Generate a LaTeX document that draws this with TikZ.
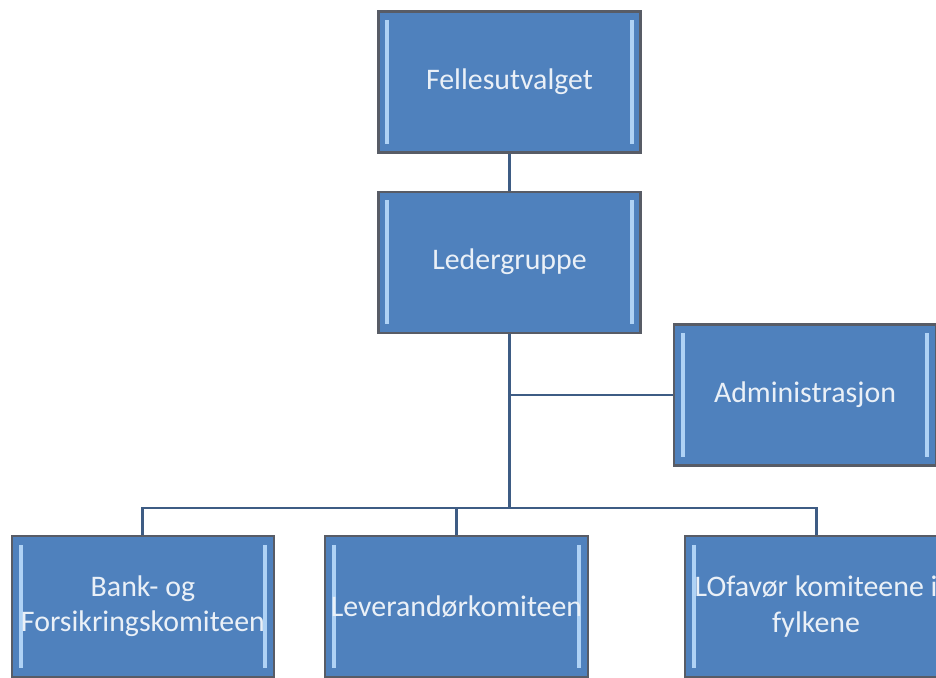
\documentclass[tikz,border=0pt]{standalone}
\usepackage{fontspec}
\setmainfont{Carlito}
\usetikzlibrary{positioning}

\definecolor{boxblue}{RGB}{79,129,189}
\definecolor{edgegray}{RGB}{88,92,102}
\definecolor{glow}{RGB}{175,210,245}
\definecolor{linkblue}{RGB}{62,92,132}

\begin{document}
\begin{tikzpicture}[
    node distance=0.74cm and 0.98cm,
    unit/.style={rectangle, draw=edgegray, line width=1.2pt, fill=boxblue,
      minimum width=5.24cm, minimum height=2.82cm, align=center,
      text=white!88!boxblue, font=\fontsize{17}{20}\selectfont,
      path picture={
        \draw[glow, line width=2.2pt] ([xshift=5pt,yshift=-5pt]path picture bounding box.north west) -- ([xshift=5pt,yshift=5pt]path picture bounding box.south west);
        \draw[glow, line width=2.2pt] ([xshift=-5pt,yshift=-5pt]path picture bounding box.north east) -- ([xshift=-5pt,yshift=5pt]path picture bounding box.south east);
      }},
    link/.style={draw=linkblue, line width=1.7pt},
]
    \useasboundingbox (0,0) rectangle (18.72,13.56);
    \clip (0,0) rectangle (18.72,13.56);

    % Top of the chart
    \node[unit] (felles) at (10.19,11.92) {Fellesutvalget};
    \node[unit, below=of felles] (leder) {Ledergruppe};

    % Staff box (right)
    \node[unit] (admin) at (16.1,5.66) {Administrasjon};

    % Committees (bottom row)
    \node[unit] (lever) at (9.13,1.43) {Leverandørkomiteen};
    \node[unit, left=of lever] (bank) {Bank- og\\Forsikringskomiteen};
    \node[unit, right=1.9cm of lever] (lofav) {LOfavør komiteene i\\fylkene};

    % Lines
    \coordinate (bus) at (0,3.4);
    \draw[link] (felles) -- (leder);
    \draw[link] (leder.south) -- (leder.south |- bus);
    \draw[link] (admin.west) -- (admin.west -| leder.south);
    \draw[link] (bank.north) -- (bank.north |- bus) -- (lofav.north |- bus) -- (lofav.north);
    \draw[link] (lever.north) -- (lever.north |- bus);
\end{tikzpicture}
\end{document}
